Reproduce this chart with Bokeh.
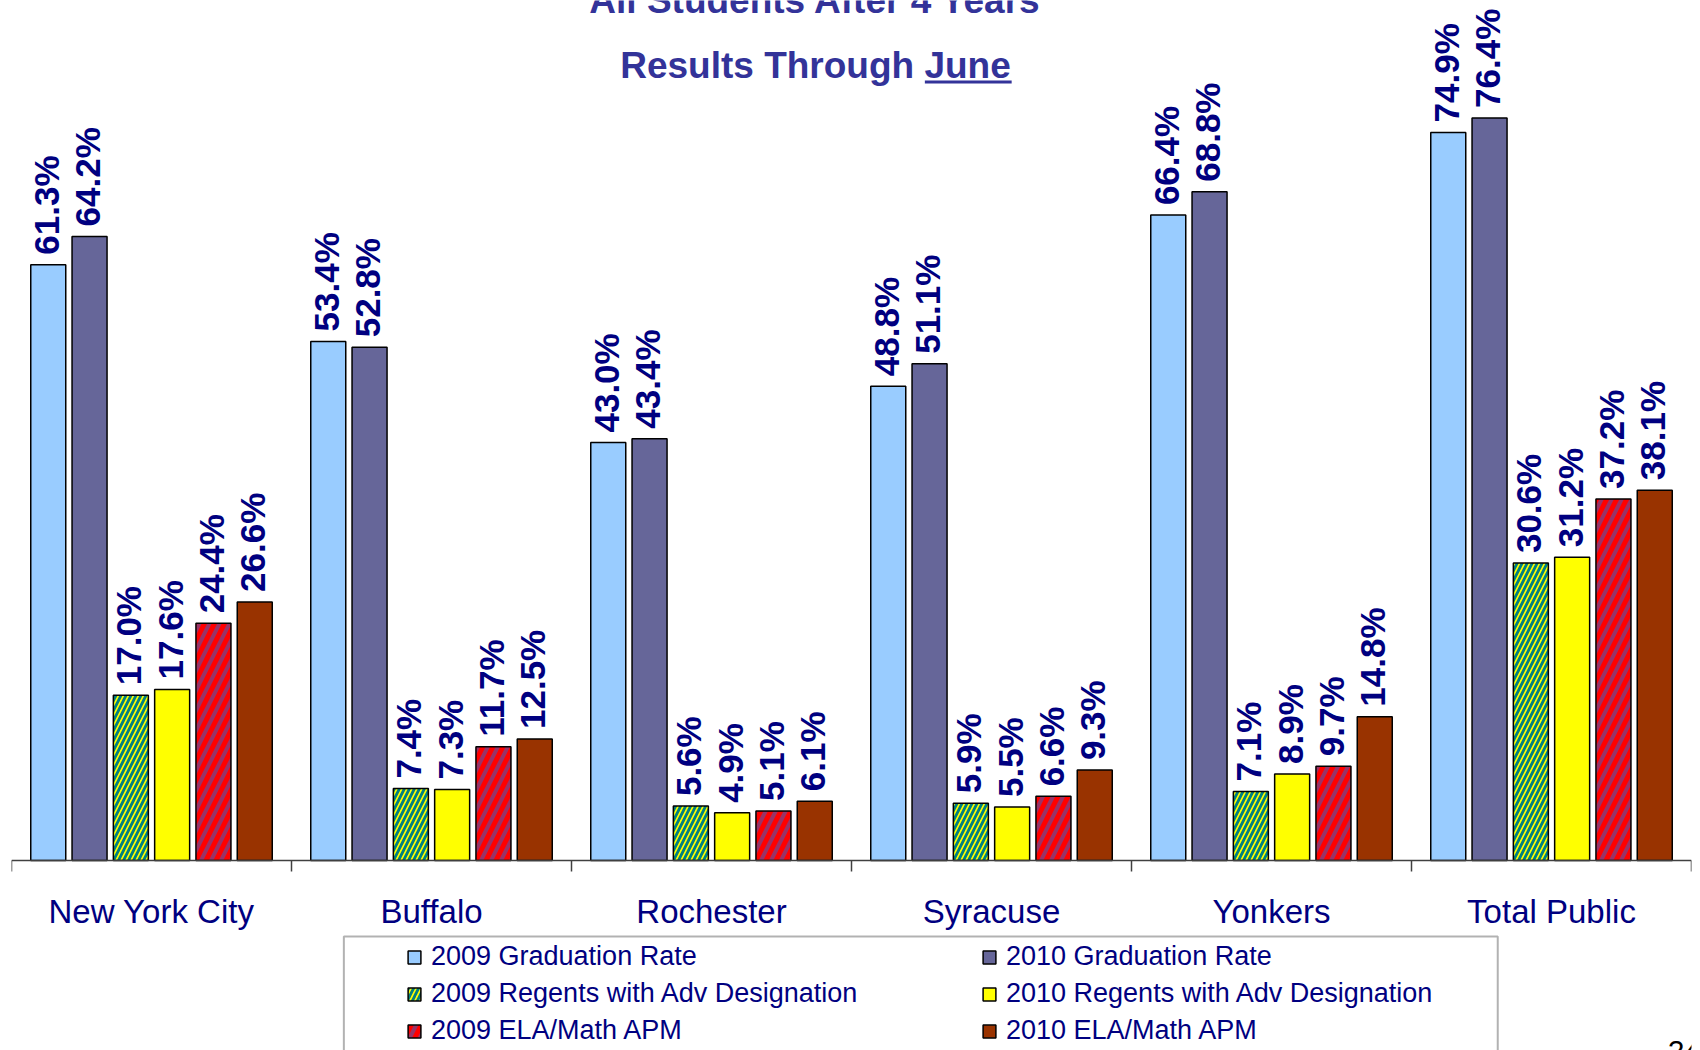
from bokeh.plotting import figure
from bokeh.models import (ColumnDataSource, Range1d, Legend, LegendItem, Label,
                          BoxAnnotation, Span)
from bokeh.transform import dodge
from bokeh.core.properties import value
from bokeh.embed import file_html
from bokeh.resources import INLINE
from math import pi

# ---------------- data ----------------
cities = ["New York City", "Buffalo", "Rochester", "Syracuse", "Yonkers", "Total Public"]
grad_2009 = [61.3, 53.4, 43.0, 48.8, 66.4, 74.9]
grad_2010 = [64.2, 52.8, 43.4, 51.1, 68.8, 76.4]
regents_2009 = [17.0, 7.4, 5.6, 5.9, 7.1, 30.6]
regents_2010 = [17.6, 7.3, 4.9, 5.5, 8.9, 31.2]
apm_2009 = [24.4, 11.7, 5.1, 6.6, 9.7, 37.2]
apm_2010 = [26.6, 12.5, 6.1, 9.3, 14.8, 38.1]
series_names = ["2009 Graduation Rate", "2010 Graduation Rate",
                "2009 Regents with Adv Designation", "2010 Regents with Adv Designation",
                "2009 ELA/Math APM", "2010 ELA/Math APM"]
title_line1 = "All Students After 4 Years"
title_line2 = "Results Through June"
page_number = "24"

# ---------------- styles ----------------
FONT = "Liberation Sans"
NAVY = "#000080"
TITLE_COLOR = "#333399"
AXIS_COLOR = "#404040"
styles = [
    dict(fill_color="#99CCFF"),
    dict(fill_color="#666699"),
    dict(fill_color="#FFFF00", hatch_pattern="/", hatch_color="#008080", hatch_scale=10, hatch_weight=2.8),
    dict(fill_color="#FFFF00"),
    dict(fill_color="#993366", hatch_pattern="/", hatch_color="#FF0000", hatch_scale=20, hatch_weight=5),
    dict(fill_color="#993300"),
]
keys = ["g09", "g10", "r09", "r10", "a09", "a10"]
series = [grad_2009, grad_2010, regents_2009, regents_2010, apm_2009, apm_2010]

n = len(cities)
centers = [i + 0.5 for i in range(n)]
data = dict(city=cities, xc=centers)
for k, vals in zip(keys, series):
    data[k] = vals
    data[k + "_lbl"] = [f"{v:.1f}%" for v in vals]
source = ColumnDataSource(data)

W, H = 1700, 1050
BORDER_L, BORDER_R = 11, 9
PX_PER_UNIT = 9.72            # vertical pixels per percentage point
BASELINE_PX = 860             # pixel row of the zero line from the top
Y_END = BASELINE_PX / PX_PER_UNIT
Y_START = -(H - BASELINE_PX) / PX_PER_UNIT

p = figure(width=W, height=H,
           x_range=Range1d(0, n), y_range=Range1d(Y_START, Y_END),
           output_backend="svg", toolbar_location=None,
           x_axis_location=None, y_axis_location=None,
           min_border_left=BORDER_L, min_border_right=BORDER_R,
           min_border_top=0, min_border_bottom=0)
p.outline_line_color = None
p.xgrid.visible = False
p.ygrid.visible = False
p.background_fill_color = "white"
p.border_fill_color = "white"

STEP = 0.1475
BAR_W = 0.125
renderers = []
for i, (k, st) in enumerate(zip(keys, styles)):
    off = (i - 2.5) * STEP
    r = p.vbar(x=dodge("xc", off), top=k, width=BAR_W, bottom=0,
               source=source, line_color="black", line_width=1.5, **st)
    renderers.append(r)
    p.text(x=dodge("xc", off), y=k, text=k + "_lbl", source=source,
           angle=pi / 2, text_align="left", text_baseline="middle",
           x_offset=-2, y_offset=-10,
           text_font=value(FONT), text_font_style="bold", text_font_size="35px",
           text_color=NAVY)

# category axis: baseline, boundary ticks, names
p.add_layout(Span(location=0, dimension="width", line_color=AXIS_COLOR, line_width=1.5))
bounds = list(range(n + 1))
TICK_LEN = 11 / PX_PER_UNIT
p.segment(x0=bounds, y0=[0] * len(bounds), x1=bounds, y1=[-TICK_LEN] * len(bounds),
          line_color=AXIS_COLOR, line_width=1.5)
p.text(x="xc", y=0, text="city", source=source, y_offset=51,
       text_align="center", text_baseline="middle",
       text_font=value(FONT), text_font_size="33px", text_color=NAVY)

# titles
TITLE_X = (815 - BORDER_L) / ((W - BORDER_L - BORDER_R) / n)
p.add_layout(Label(x=TITLE_X, y=88.5, text=title_line1, text_align="center",
                   text_baseline="middle", text_font=FONT, text_font_style="bold",
                   text_font_size="37px", text_color=TITLE_COLOR))
p.add_layout(Label(x=TITLE_X, y=81.79, text=title_line2, text_align="center",
                   text_baseline="middle", text_font=FONT, text_font_style="bold",
                   text_font_size="37px", text_color=TITLE_COLOR))
# underline under "June"
UL_X0, UL_X1, UL_Y, UL_T = 3.262, 3.572, 80.09, 0.16
p.add_layout(BoxAnnotation(left=UL_X0, right=UL_X1, bottom=UL_Y - UL_T, top=UL_Y + UL_T,
                           fill_color=TITLE_COLOR, fill_alpha=1, line_color=None))

# page number
p.add_layout(Label(x=5.915, y=-18.52, text=page_number, text_align="left",
                   text_baseline="top", text_font=FONT, text_font_size="30px", text_color="black"))

# legend
order = [0, 2, 4, 1, 3, 5]
items = [LegendItem(label=series_names[i], renderers=[renderers[i]]) for i in order]
legend = Legend(items=items, location=(395, 4), ncols=2, orientation="vertical",
                label_text_font=FONT, label_text_font_size="27px", label_text_color=NAVY,
                glyph_width=16, glyph_height=16, label_standoff=9, spacing=6,
                label_height=30, label_width=544, padding=0, margin=0,
                border_line_color=None, background_fill_alpha=0)
p.add_layout(legend, "center")
p.add_layout(BoxAnnotation(left=1.187, right=5.308, top=-7.82, bottom=-30,
                           fill_alpha=0, line_color="black", line_width=2))

open("out.html", "w").write(file_html(p, INLINE))
